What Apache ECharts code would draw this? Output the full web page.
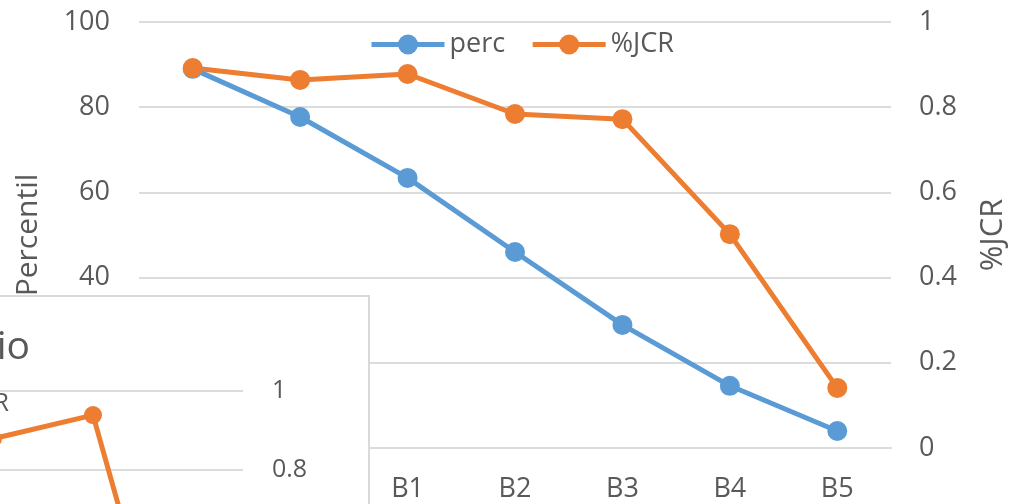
<!DOCTYPE html>
<html>
<head>
<meta charset="utf-8">
<script src="https://cdn.jsdelivr.net/npm/echarts@6/dist/echarts.min.js"></script>
<style>
  html, body { margin: 0; padding: 0; background: #fff; overflow: hidden; }
  #main { position: absolute; left: 0; top: 0; width: 1017px; height: 504px; }
  #insetBox { position: absolute; left: -500px; top: 295px; width: 870px; height: 600px;
              box-sizing: border-box; border: 2px solid #d9d9d9; background: #fff; z-index: 5; }
  #inset { width: 866px; height: 596px; }
</style>
</head>
<body>
<div id="main"></div>
<div id="insetBox"><div id="inset"></div></div>
<script>
// ---- data (main chart) ----
const categories = ['A', 'B0', 'B1', 'B2', 'B3', 'B4', 'B5'];
const percValues = [89, 77.7, 63.4, 46, 28.9, 14.6, 4.0];
const jcrValues = [0.892, 0.864, 0.878, 0.784, 0.772, 0.502, 0.141];
const leftName = 'Percentil';
const rightName = '%JCR';
const seriesNames = ['perc', '%JCR'];

// ---- data (partly hidden inset chart) ----
const insetTitle = 'Promedio';
const insetCategories = ['A', 'B0', 'B1', 'B2', 'B3', 'B4', 'B5'];
const insetJcrValues = [null, null, null, null, 0.879, 0.939, 0.04];

const FONT = '"Open Sans", "Noto Sans", sans-serif';
const TXT = '#595959';
const GRID = '#dcdcdc';
const BLUE = '#5b9bd5';
const ORANGE = '#ed7d31';

const main = echarts.init(document.getElementById('main'), null, { renderer: 'canvas' });
main.setOption({
  animation: false,
  backgroundColor: '#fff',
  textStyle: { fontFamily: FONT, color: TXT },
  legend: {
    left: 369, top: 31, padding: 0,
    itemWidth: 73, itemHeight: 25, itemGap: 25,
    lineStyle: { width: 5 },
    textStyle: { fontSize: 27, color: TXT, fontFamily: FONT },
    data: seriesNames
  },
  grid: { left: 139, right: 120, top: 22, bottom: 56, containLabel: false },
  xAxis: {
    type: 'category', data: categories, boundaryGap: true,
    axisLine: { show: true, lineStyle: { color: GRID, width: 2 } },
    axisTick: { show: false },
    axisLabel: { fontSize: 27, color: TXT, margin: 28, fontFamily: FONT }
  },
  yAxis: [
    {
      type: 'value', min: 0, max: 100, interval: 20, position: 'left',
      name: leftName, nameLocation: 'middle', nameRotate: 90, nameGap: 96,
      nameTextStyle: { fontSize: 30, color: TXT, fontFamily: FONT },
      axisLine: { show: false }, axisTick: { show: false },
      axisLabel: { fontSize: 27, color: TXT, margin: 29, fontFamily: FONT },
      splitLine: { lineStyle: { color: GRID, width: 2 } }
    },
    {
      type: 'value', min: 0, max: 1, interval: 0.2, position: 'right',
      name: rightName, nameLocation: 'middle', nameRotate: 90, nameGap: 87,
      nameTextStyle: { fontSize: 31, color: TXT, fontFamily: FONT },
      axisLine: { show: false }, axisTick: { show: false },
      axisLabel: { fontSize: 27, color: TXT, margin: 28, fontFamily: FONT },
      splitLine: { show: false }
    }
  ],
  series: [
    {
      name: seriesNames[0], type: 'line', yAxisIndex: 0, data: percValues,
      symbol: 'circle', symbolSize: 20,
      lineStyle: { color: BLUE, width: 5 }, itemStyle: { color: BLUE }
    },
    {
      name: seriesNames[1], type: 'line', yAxisIndex: 1, data: jcrValues,
      symbol: 'circle', symbolSize: 20,
      lineStyle: { color: ORANGE, width: 5 }, itemStyle: { color: ORANGE }
    }
  ]
});

const inset = echarts.init(document.getElementById('inset'), null, { renderer: 'canvas' });
inset.setOption({
  animation: false,
  backgroundColor: '#fff',
  textStyle: { fontFamily: FONT, color: TXT },
  title: {
    text: insetTitle, right: 338, top: 31, padding: 0,
    textStyle: { fontSize: 39, fontWeight: 'normal', color: TXT, fontFamily: FONT }
  },
  legend: {
    right: 359, top: 94, padding: 0,
    itemWidth: 66, itemHeight: 22,
    lineStyle: { width: 5 },
    textStyle: { fontSize: 25, color: TXT, fontFamily: FONT },
    data: ['%JCR']
  },
  grid: { left: 41, right: 125, top: 94, bottom: 107, containLabel: false },
  xAxis: {
    type: 'category', data: insetCategories, boundaryGap: true,
    axisLine: { show: true, lineStyle: { color: GRID, width: 2 } },
    axisTick: { show: false },
    axisLabel: { fontSize: 25, color: TXT }
  },
  yAxis: {
    type: 'value', min: 0, max: 1, interval: 0.2, position: 'right',
    axisLine: { show: false }, axisTick: { show: false },
    axisLabel: { fontSize: 25, color: TXT, margin: 29, fontFamily: FONT },
    splitLine: { lineStyle: { color: GRID, width: 2 } }
  },
  series: [
    {
      name: '%JCR', type: 'line', data: insetJcrValues, connectNulls: false,
      symbol: 'circle', symbolSize: 18,
      lineStyle: { color: ORANGE, width: 5 }, itemStyle: { color: ORANGE }
    }
  ]
});
</script>
</body>
</html>
